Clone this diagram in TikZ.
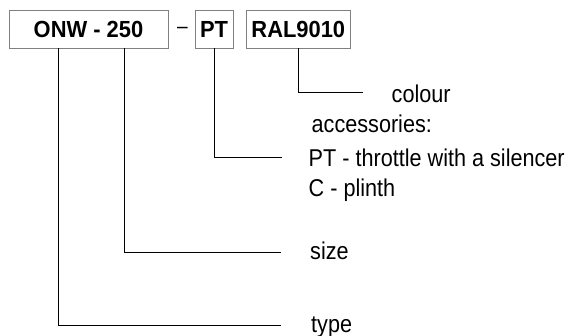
\documentclass[tikz,border=0pt]{standalone}
\usepackage{fontspec}
\setmainfont{Liberation Sans}
\newfontfamily\regfont[FakeStretch=0.89]{Liberation Sans}
\newfontfamily\boldfontx[FakeStretch=0.94]{Liberation Sans Bold}
\begin{document}
\begin{tikzpicture}[x=1pt,y=-1pt,
  codebox/.style={draw=black!50,line width=0.9pt,inner sep=0pt,minimum height=38pt,font=\boldfontx\fontsize{23.3}{27}\selectfont},
  lbl/.style={anchor=base west,inner sep=0pt,font=\regfont\fontsize{24.3}{28}\selectfont},
  conn/.style={line width=0.9pt,black}]
\useasboundingbox (0,0) rectangle (572,335);
% code boxes
\node[codebox,minimum width=159pt] (box1) at (88.5,29) {ONW - 250};
\node[anchor=base,inner sep=0pt,font=\regfont\fontsize{21.5}{25}\selectfont] (dash) at (182.5,33) {–};
\node[codebox,minimum width=38pt] (box2) at (214,29) {PT};
\node[codebox,minimum width=104.7pt] (box3) at (298.3,29) {RAL9010};
% labels
\node[lbl] (colour) at (391.5,102) {colour};
\node[lbl] (acc) at (311.5,132.7) {accessories:};
\node[lbl] (pt) at (308.5,166) {PT - throttle with a silencer};
\node[lbl] (plinth) at (308.5,196) {C - plinth};
\node[lbl] (size) at (310,259) {size};
\node[lbl] (type) at (311,332) {type};
% connector corners and ends
\coordinate (ccol) at (298,92);
\coordinate (ecol) at (363,92);
\coordinate (cpt) at (214.5,157);
\coordinate (ept) at (282,157);
\coordinate (csize) at (124.7,252);
\coordinate (esize) at (281,252);
\coordinate (ctype) at (58.5,325.3);
\coordinate (etype) at (281,325.3);
% connectors
\draw[conn] (box3.south -| ccol) -- (ccol) -- (ecol);
\draw[conn] (box2.south -| cpt) -- (cpt) -- (ept);
\draw[conn] (box1.south -| csize) -- (csize) -- (esize);
\draw[conn] (box1.south -| ctype) -- (ctype) -- (etype);
\end{tikzpicture}
\end{document}
